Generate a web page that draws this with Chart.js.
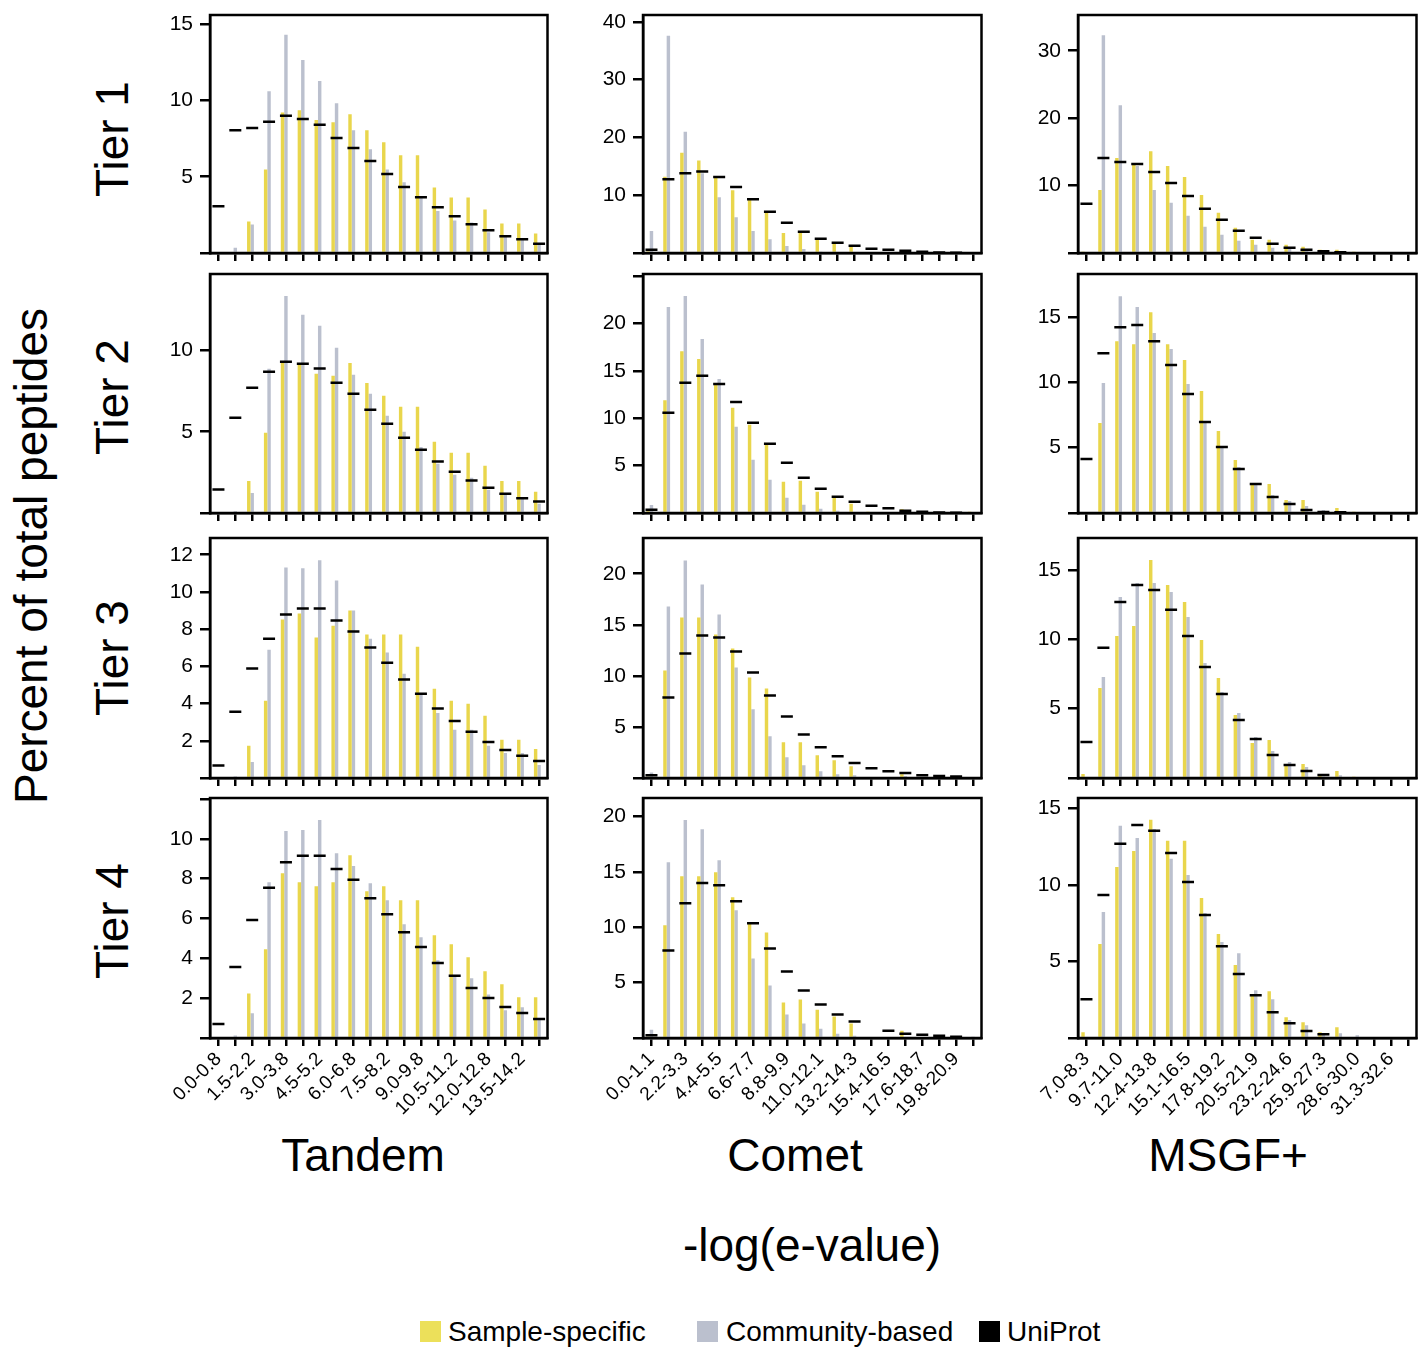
<!DOCTYPE html>
<html lang="en">
<head>
<meta charset="UTF-8">
<title>-log(e-value) distributions by tier</title>
<style>
  body { margin: 0; background: #ffffff; font-family: 'Liberation Sans', Arial, sans-serif; }
  #page { position: relative; width: 1426px; height: 1347px; overflow: hidden; }
  #page canvas { position: absolute; }
  .lbl { position: absolute; white-space: nowrap; color: #000; line-height: 1; transform: translate(-50%, -50%); }
  .rot { transform: translate(-50%, -50%) rotate(-90deg); }
  .big { font-size: 46px; }
  .key { position: absolute; top: 1321px; width: 21px; height: 21px; }
  .keytext { position: absolute; top: 1318px; font-size: 28px; line-height: 28px; white-space: nowrap; }
</style>
</head>
<body>
<div id="page">
  <div class="lbl rot big" style="left:31px; top:556px;">Percent of total peptides</div>
  <div class="lbl rot big" style="left:112px; top:139px;">Tier 1</div>
  <div class="lbl rot big" style="left:112px; top:397px;">Tier 2</div>
  <div class="lbl rot big" style="left:112px; top:658px;">Tier 3</div>
  <div class="lbl rot big" style="left:112px; top:921px;">Tier 4</div>
  <div class="lbl big" style="left:363px; top:1155px;">Tandem</div>
  <div class="lbl big" style="left:795px; top:1155px;">Comet</div>
  <div class="lbl big" style="left:1228px; top:1155px;">MSGF+</div>
  <div class="lbl big" style="left:812px; top:1245px;">-log(e-value)</div>

  <div class="key" style="left:420px; background:#ECE05A;"></div>
  <div class="keytext" style="left:448px;">Sample-specific</div>
  <div class="key" style="left:697px; background:#BBC0CE;"></div>
  <div class="keytext" style="left:726px;">Community-based</div>
  <div class="key" style="left:979px; background:#000000;"></div>
  <div class="keytext" style="left:1007px;">UniProt</div>
</div>

<script src="https://cdn.jsdelivr.net/npm/chart.js"></script>
<script>
// bins (x categories)
const tandemBins = ['0.0-0.8','0.8-1.5','1.5-2.2','2.2-3.0','3.0-3.8','3.8-4.5','4.5-5.2','5.2-6.0','6.0-6.8','6.8-7.5',
                    '7.5-8.2','8.2-9.0','9.0-9.8','9.8-10.5','10.5-11.2','11.2-12.0','12.0-12.8','12.8-13.5','13.5-14.2','14.2-15.0'];
const cometBins = ['0.0-1.1','1.1-2.2','2.2-3.3','3.3-4.4','4.4-5.5','5.5-6.6','6.6-7.7','7.7-8.8','8.8-9.9','9.9-11.0',
                   '11.0-12.1','12.1-13.2','13.2-14.3','14.3-15.4','15.4-16.5','16.5-17.6','17.6-18.7','18.7-19.8','19.8-20.9','20.9-22.0'];
const msgfBins = ['7.0-8.3','8.3-9.7','9.7-11.0','11.0-12.4','12.4-13.8','13.8-15.1','15.1-16.5','16.5-17.8','17.8-19.2','19.2-20.5',
                  '20.5-21.9','21.9-23.2','23.2-24.6','24.6-25.9','25.9-27.3','27.3-28.6','28.6-30.0','30.0-31.3','31.3-32.6','32.6-34.0'];

// Tandem
const tandemT1Sample    = [0,0,2.06,5.48,9.21,9.36,8.71,8.57,9.1,8.05,7.26,6.4,6.4,4.3,3.64,3.64,2.85,1.93,1.93,1.27];
const tandemT1Community = [0,0.35,1.86,10.61,14.3,12.65,11.27,9.82,8.05,6.8,5.48,4.63,3.62,2.76,2.13,2.0,1.36,1.1,0.88,0.59];
const tandemT1Uniprot   = [3.07,8.05,8.2,8.6,8.99,8.79,8.4,7.54,6.89,6.03,5.18,4.32,3.66,3.0,2.41,1.89,1.49,1.1,0.9,0.61];
const tandemT2Sample    = [0,0,1.97,4.94,9.3,9.18,8.57,8.44,9.22,7.99,7.21,6.54,6.54,4.39,3.71,3.71,2.91,1.97,1.97,1.31];
const tandemT2Community = [0,0.12,1.23,8.87,13.34,12.19,11.52,10.16,8.5,7.34,5.98,5.0,4.06,3.03,2.36,2.17,1.43,1.15,0.98,0.57];
const tandemT2Uniprot   = [1.45,5.86,7.7,8.69,9.3,9.18,8.89,8.01,7.34,6.35,5.49,4.63,3.89,3.16,2.54,2.0,1.56,1.19,0.9,0.7];
const tandemT3Sample    = [0,0,1.73,4.15,8.52,8.84,7.55,8.19,9.0,7.71,7.71,7.71,7.06,4.8,4.15,3.99,3.34,2.05,2.05,1.56];
const tandemT3Community = [0,0.1,0.86,6.9,11.32,11.27,11.7,10.62,9.0,7.49,6.74,5.61,4.47,3.5,2.59,2.59,1.73,1.35,1.35,0.7];
const tandemT3Uniprot   = [0.67,3.56,5.88,7.49,8.79,9.11,9.11,8.46,7.87,7.01,6.2,5.3,4.53,3.74,3.07,2.48,1.94,1.51,1.2,0.92];
const tandemT4Sample    = [0,0,2.24,4.46,8.27,7.82,7.62,7.82,9.18,7.37,7.62,6.92,6.92,5.16,4.71,4.05,3.35,2.7,2.04,2.04];
const tandemT4Community = [0,0.13,1.24,7.82,10.39,10.44,10.94,9.28,8.63,7.77,6.92,5.71,5.06,3.9,3.1,3.0,2.19,1.39,1.54,0.94];
const tandemT4Uniprot   = [0.7,3.57,5.93,7.54,8.83,9.15,9.15,8.48,7.94,7.02,6.21,5.31,4.57,3.77,3.12,2.51,2.01,1.56,1.26,0.95];

// Comet
const cometT1Sample    = [0.3,13.2,17.36,16.0,13.0,10.86,9.2,7.0,3.45,3.68,2.3,1.55,1.15,0.2,0,0,0,0,0,0];
const cometT1Community = [3.8,37.6,21.0,13.8,9.66,6.2,3.8,2.4,1.2,0.69,0.1,0,0,0,0,0,0,0,0,0];
const cometT1Uniprot   = [0.57,12.76,13.8,14.1,13.16,11.44,9.3,7.13,5.23,3.68,2.47,1.78,1.26,0.75,0.57,0.4,0.23,0.1,0.05,null];
const cometT2Sample    = [0.25,11.92,17.09,16.28,13.64,11.11,9.32,7.21,3.31,3.41,2.25,1.62,0.98,0.1,0,0.39,0,0,0,0.1];
const cometT2Community = [0.84,21.77,22.93,18.39,14.17,9.1,5.63,3.52,1.62,0.88,0.46,0.25,0,0,0,0,0,0,0,0];
const cometT2Uniprot   = [0.35,10.58,13.75,14.49,13.64,11.74,9.53,7.31,5.31,3.73,2.57,1.72,1.2,0.77,0.49,0.25,0.14,0.05,0.03,null];
const cometT3Sample    = [0.1,10.53,15.72,15.72,14.06,12.69,9.85,8.77,3.49,3.49,2.22,1.73,1.14,0,0,0.36,0,0,0,0];
const cometT3Community = [0.55,16.8,21.3,18.95,16.01,10.83,6.72,4.08,2.02,1.24,0.65,0.36,0.26,0,0,0.2,0,0,0,0];
const cometT3Uniprot   = [0.26,7.89,12.2,13.96,13.76,12.39,10.34,8.09,6.03,4.27,3.0,2.12,1.47,0.95,0.65,0.49,0.26,0.2,0.15,null];
const cometT4Sample    = [0.1,10.17,14.6,14.6,14.96,12.7,10.35,9.53,3.2,3.47,2.56,1.93,1.3,0,0,0.66,0,0,0,0];
const cometT4Community = [0.75,15.87,19.67,18.85,16.05,11.52,7.18,4.74,2.11,1.3,0.84,0.39,0.21,0,0,0,0,0,0,0.1];
const cometT4Uniprot   = [0.24,7.9,12.16,14.0,13.79,12.34,10.35,8.08,6.0,4.28,3.02,2.11,1.48,null,0.66,0.39,0.3,0.21,0.12,null];

// MSGF+
const msgfT1Sample    = [0.1,9.36,14.1,13.2,15.1,12.9,11.28,8.62,5.96,3.74,1.97,1.97,1.23,0.94,0.49,0.49,0.05,0,0,0];
const msgfT1Community = [0,32.3,21.9,12.9,9.36,7.44,5.52,3.89,2.71,1.82,1.23,0.79,0.64,0.3,0.1,0,0,0,0,0];
const msgfT1Uniprot   = [7.3,14.1,13.5,13.2,12.0,10.4,8.47,6.55,4.93,3.3,2.27,1.38,0.79,0.49,0.25,0.1,null,null,null,null];
const msgfT2Sample    = [0.1,6.89,13.16,12.93,15.38,12.93,11.71,9.34,6.28,4.06,2.22,2.22,0.99,0.99,0.1,0.38,0.03,0,0,0];
const msgfT2Community = [0,9.95,16.6,15.77,13.78,12.55,9.87,6.96,5.05,3.52,2.22,1.38,0.92,0.54,0.23,0.15,0,0,0,0];
const msgfT2Uniprot   = [4.13,12.24,14.23,14.39,13.16,11.33,9.11,6.96,5.05,3.37,2.22,1.22,0.69,0.23,0.08,0.05,null,null,null,null];
const msgfT3Sample    = [0.29,6.49,10.24,10.96,15.72,13.92,12.69,9.95,7.21,4.54,2.52,2.74,0.94,1.01,0.2,0.5,0.05,0,0,0];
const msgfT3Community = [0,7.28,13.05,14.06,14.06,13.41,11.61,8.29,6.2,4.69,2.96,1.95,1.15,0.79,0.1,0.2,0,0,0,0];
const msgfT3Uniprot   = [2.6,9.38,12.69,13.92,13.56,12.12,10.24,8.0,6.06,4.18,2.81,1.66,0.94,0.5,0.22,null,null,null,null,null];
const msgfT4Sample    = [0.38,6.15,11.19,12.24,14.27,12.9,12.9,9.16,6.8,4.77,2.8,3.06,1.36,1.03,0.38,0.71,0,0,0,0];
const msgfT4Community = [0,8.24,13.88,13.09,13.68,11.72,10.66,8.18,6.28,5.55,3.13,2.54,1.17,0.84,0.2,0.31,0.18,0,0,0];
const msgfT4Uniprot   = [2.54,9.35,12.7,13.94,13.55,12.11,10.2,8.05,6.0,4.18,2.8,1.69,0.97,0.45,0.25,null,null,null,null,null];

// y axis per tier (max, step, labelled ticks)
const tandemYMax = [15.6, 14.7, 12.9, 12.05];
const tandemYStep = [5, 5, 2, 2];
const tandemYLabels = [[5,10,15], [5,10], [2,4,6,8,10,12], [2,4,6,8,10]];
const cometYMax = [41.2, 25.25, 23.5, 21.66];
const cometYStep = [10, 5, 5, 5];
const cometYLabels = [[10,20,30,40], [5,10,15,20], [5,10,15,20], [5,10,15,20]];
const msgfYMax = [35.3, 18.3, 17.3, 15.7];
const msgfYStep = [10, 5, 5, 5];
const msgfYLabels = [[10,20,30], [5,10,15], [5,10,15], [5,10,15]];

const YELLOW = '#E9D64C';
const GREY = '#BBC0CE';

Chart.defaults.font.family = "'Liberation Sans', Arial, sans-serif";
Chart.defaults.color = '#000';

// full box round the plot area, drawn over the bars
const framePlugin = {
    id: 'frame',
    afterDatasetsDraw(chart) {
        const a = chart.chartArea;
        const ctx = chart.ctx;
        ctx.save();
        ctx.strokeStyle = '#000';
        ctx.lineWidth = 2.5;
        ctx.strokeRect(a.left, a.top, a.right - a.left, a.bottom - a.top);
        ctx.restore();
    }
};

const colLefts = [210, 643, 1078];
const colWidths = [338, 339, 339];
const rowTops = [15, 274, 538, 798];
const rowHeights = [238, 239, 240, 240];
const page = document.getElementById('page');

function makePanel(col, row, sample, community, uniprot, bins, yMax, yStep, yLabels) {
    const isBottom = row === 3;
    const xh = isBottom ? 110 : 14;
    const c = document.createElement('canvas');
    c.width = colWidths[col] + 68;
    c.height = rowHeights[row] + 12 + xh;
    c.style.left = (colLefts[col] - 60) + 'px';
    c.style.top = (rowTops[row] - 12) + 'px';
    page.appendChild(c);

    new Chart(c, {
        type: 'bar',
        data: {
            labels: bins,
            datasets: [
                {
                    type: 'line',
                    label: 'UniProt',
                    data: uniprot,
                    showLine: false,
                    pointStyle: 'line',
                    pointRadius: 6,
                    pointHoverRadius: 6,
                    pointBorderWidth: 2.5,
                    pointBorderColor: '#000',
                    pointBackgroundColor: '#000'
                },
                { label: 'Sample-specific', data: sample, backgroundColor: YELLOW, borderWidth: 0 },
                { label: 'Community-based', data: community, backgroundColor: GREY, borderWidth: 0 },
                { label: 'UniProt slot', data: [], backgroundColor: 'rgba(0,0,0,0)', borderWidth: 0 }
            ]
        },
        options: {
            responsive: false,
            animation: false,
            devicePixelRatio: 1,
            events: [],
            layout: { padding: { left: 0, top: 12, right: 8, bottom: 0 } },
            datasets: { bar: { categoryPercentage: 0.61, barPercentage: 1 } },
            plugins: { legend: { display: false }, tooltip: { enabled: false } },
            scales: {
                x: {
                    offset: true,
                    grid: { drawOnChartArea: false, offset: false, tickLength: 8, color: '#000', lineWidth: 2.5 },
                    border: { display: true, color: '#000', width: 2.5 },
                    ticks: {
                        display: isBottom,
                        autoSkip: false,
                        minRotation: 45,
                        maxRotation: 45,
                        padding: 2,
                        font: { size: 19 },
                        callback: (v, i) => (i % 2 === 0 ? bins[i] : '')
                    },
                    afterFit: s => { s.height = xh; s.paddingLeft = 0; s.paddingRight = 0; }
                },
                y: {
                    min: 0,
                    max: yMax,
                    grid: { drawOnChartArea: false, tickLength: 10, color: '#000', lineWidth: 2.5 },
                    border: { display: true, color: '#000', width: 2.5 },
                    ticks: {
                        stepSize: yStep,
                        includeBounds: false,
                        padding: 7,
                        font: { size: 21 },
                        callback: v => (yLabels.some(l => Math.abs(l - v) < 1e-6) ? String(v) : '')
                    },
                    afterFit: s => { s.width = 60; s.paddingTop = 0; s.paddingBottom = 0; }
                }
            }
        },
        plugins: [framePlugin]
    });
}

const tandemRows = [
    [tandemT1Sample, tandemT1Community, tandemT1Uniprot],
    [tandemT2Sample, tandemT2Community, tandemT2Uniprot],
    [tandemT3Sample, tandemT3Community, tandemT3Uniprot],
    [tandemT4Sample, tandemT4Community, tandemT4Uniprot]
];
const cometRows = [
    [cometT1Sample, cometT1Community, cometT1Uniprot],
    [cometT2Sample, cometT2Community, cometT2Uniprot],
    [cometT3Sample, cometT3Community, cometT3Uniprot],
    [cometT4Sample, cometT4Community, cometT4Uniprot]
];
const msgfRows = [
    [msgfT1Sample, msgfT1Community, msgfT1Uniprot],
    [msgfT2Sample, msgfT2Community, msgfT2Uniprot],
    [msgfT3Sample, msgfT3Community, msgfT3Uniprot],
    [msgfT4Sample, msgfT4Community, msgfT4Uniprot]
];

for (let r = 0; r < 4; r++) {
    makePanel(0, r, ...tandemRows[r], tandemBins, tandemYMax[r], tandemYStep[r], tandemYLabels[r]);
    makePanel(1, r, ...cometRows[r], cometBins, cometYMax[r], cometYStep[r], cometYLabels[r]);
    makePanel(2, r, ...msgfRows[r], msgfBins, msgfYMax[r], msgfYStep[r], msgfYLabels[r]);
}
</script>
</body>
</html>
